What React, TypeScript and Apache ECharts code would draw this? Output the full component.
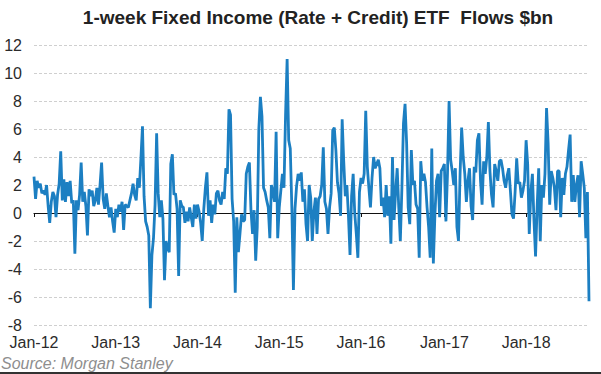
import React, { useEffect, useRef } from "react";
import * as echarts from "echarts";

// Weekly flows, $bn, one array per calendar year (weeks ending Fridays)
const flows2012 = [
  2.6, 1.0, 2.3, 1.8, 2.1, 1.4, 1.6, 1.3, 2.0, 0.5,
  -0.7, 0.8, 1.5, 1.2, -0.3, 1.3, 2.1, 4.4, 0.9, 2.4,
  0.8, 2.2, 1.2, 2.3, 0.7, 0.9, -2.9, 0.9, 0.2, 1.3,
  3.6, 0.8, 1.5, 0.5, -1.6, 1.7, 1.2, 1.6, 0.5, 0.9,
  1.8, 0.6, 2.0, 3.6, 1.0, 0.3, 1.4, 0.5, -0.3, 0.4,
  -0.6, -1.4,
];
const flows2013 = [
  0.3, -0.3, 0.6, 0.1, 0.8, -1.2, 0.6, 0.5, 0.4, 0.9,
  1.4, 2.1, 1.3, 0.9, 2.5, 1.8, 3.9, 6.2, 1.2, -0.6,
  -1.0, -1.6, -6.8, -3.0, -1.8, 0.6, 5.7, 1.4, -0.3, 0.9,
  -0.4, -4.8, -2.0, -2.5, -2.8, 3.5, 4.2, 1.3, 1.4, 0.3,
  -4.5, 0.9, 0.5, 0.4, -0.7, 0.1, -0.6, 0.4, -0.3, -1.0,
  0.6, -0.4,
];
const flows2014 = [
  0.6, 0.1, -0.7, -2.0, 0.3, 1.8, 2.9, -0.2, 0.9, -0.7,
  0.6, -0.1, 1.4, 1.6, 0.9, 0.6, 1.5, 1.0, 3.2, 2.8,
  7.4, 7.0, 1.0, -0.6, -5.7, -0.3, -2.8, -1.5, -0.1, -0.6,
  -0.5, 2.8, 3.3, 3.6, 0.2, -1.5, 0.2, -3.4, -1.0, 6.0,
  8.3, 6.9, 1.8, 1.5, 0.9, 0.4, -1.8, 2.0, 1.5, 0.8,
  5.8, -1.8,
];
const flows2015 = [
  0.4, 1.6, 2.8, 1.8, 7.0, 11.0, 5.2, 4.6, 0.4, -5.5,
  0.3, 1.9, 2.8, 2.3, 2.9, 0.8, 1.7, -0.8, -2.0, 2.0,
  1.1, -2.0, 0.1, 1.1, -1.5, 1.0, 1.2, 2.0, 4.7, 0.8,
  0.3, -1.5, 0.4, 1.4, 5.9, 6.1, 4.5, 2.2, 1.4, -0.2,
  6.7, 3.7, 1.2, 2.0, -0.2, -3.0, 1.2, 2.8, 0.0, -1.5,
  -3.2, 1.5,
];
const flows2016 = [
  2.5, 2.1, 2.8, 7.3, 3.3, 1.8, 0.4, 2.5, 4.0, 3.2,
  3.5, 3.8, 3.2, 0.5, 1.1, -0.3, 2.0, -0.2, 1.2, -2.2,
  4.0, -0.5, 1.5, 3.2, 0.4, -2.0, 1.8, 6.4, 7.8, 5.0,
  0.4, -0.8, 4.5, 2.0, 2.3, 0.6, 0.3, -3.2, 3.7, 2.3,
  2.8, 2.2, 0.4, -1.0, -3.2, 4.6, -3.6, -0.1, 2.3, 2.8,
  -0.3, 3.0, 3.2,
];
const flows2017 = [
  3.5, -0.6, 2.8, 8.0, 3.8, 3.0, 2.0, 3.2, -1.0, -2.0,
  2.8, 6.1, 4.0, 2.8, 0.8, 2.3, 3.2, 0.5, -0.5, 3.3,
  2.9, 5.2, 5.7, 2.3, 0.6, 3.7, 2.8, 4.0, 6.5, 3.0,
  1.3, 0.4, 3.5, 3.0, 2.3, 3.7, 3.8, 3.2, 2.3, 1.8,
  2.7, 3.2, 1.6, -0.1, -0.4, 1.5, 3.9, 2.1, 2.2, 1.1,
  1.6, 2.3,
];
const flows2018 = [
  5.2, 3.5, -1.5, 1.5, 2.8, -0.5, -3.1, 0.4, 3.2, -2.0,
  2.0, 1.1, 2.8, 7.5, 5.0, 0.6, 3.0, 2.5, 1.8, 0.2,
  3.0, 3.0, -0.3, 2.5, 1.3, 2.8, 3.3, 4.5, 5.6, 0.8,
  2.7, 0.8, 2.0, 2.7, -0.3, 3.7, 2.8, 1.8, -1.8, 1.5,
  -6.3,
];

const flows = [
  ...flows2012, ...flows2013, ...flows2014, ...flows2015,
  ...flows2016, ...flows2017, ...flows2018,
];

const firstWeek = "2012-01-06";
const yTicks = { min: -8, max: 12, interval: 2 };
const titleText = "1-week Fixed Income (Rate + Credit) ETF  Flows $bn";
const sourceText = "Source: Morgan Stanley";
const monthNames = ["Jan", "Feb", "Mar", "Apr", "May", "Jun", "Jul", "Aug", "Sep", "Oct", "Nov", "Dec"];

// weekly category labels
const weeks: string[] = (() => {
  const out: string[] = [];
  const t0 = Date.parse(firstWeek + "T00:00:00Z");
  for (let i = 0; i < flows.length; i++) {
    out.push(new Date(t0 + i * 7 * 86400000).toISOString().slice(0, 10));
  }
  return out;
})();

const isYearStart = (v: string) => {
  const d = new Date(v + "T00:00:00Z");
  return d.getUTCMonth() === 0 && d.getUTCDate() <= 7;
};
const fmtLabel = (v: string) => {
  const d = new Date(v + "T00:00:00Z");
  return monthNames[d.getUTCMonth()] + "-" + String(d.getUTCFullYear()).slice(2);
};

const FONT = "'Liberation Sans', Arial, sans-serif";

export default function App() {
  const ref = useRef<HTMLDivElement>(null);
  useEffect(() => {
    if (!ref.current) return;
    const chart = echarts.init(ref.current, null, { renderer: "svg" });
    chart.setOption({
      animation: false,
      backgroundColor: "#ffffff",
      textStyle: { fontFamily: FONT },
      grid: { left: 34, right: 12, top: 45, bottom: 49, containLabel: false },
      xAxis: [
        {
          type: "category",
          data: weeks,
          boundaryGap: false,
          position: "bottom",
          axisLine: { show: false, onZero: false },
          axisTick: { show: false },
          splitLine: { show: false },
          axisLabel: {
            interval: (_i: number, v: string) => isYearStart(v),
            formatter: (v: string) => fmtLabel(v),
            fontSize: 16,
            color: "#2b2b2b",
            fontFamily: FONT,
            margin: 9,
          },
        },
        {
          type: "category",
          data: weeks,
          boundaryGap: false,
          position: "bottom",
          axisLine: { show: true, onZero: true, lineStyle: { color: "#111", width: 1.2 } },
          axisTick: {
            show: true,
            interval: (_i: number, v: string) => isYearStart(v),
            length: 4,
            lineStyle: { color: "#111", width: 1 },
          },
          axisLabel: { show: false },
          splitLine: { show: false },
        },
      ],
      yAxis: {
        type: "value",
        min: yTicks.min,
        max: yTicks.max,
        interval: yTicks.interval,
        axisLine: { show: false },
        axisTick: { show: false },
        axisLabel: { fontSize: 16, color: "#2b2b2b", fontFamily: FONT, margin: 12 },
        splitLine: { show: true, lineStyle: { color: "#cfcfcf", type: [3, 2], width: 1 } },
      },
      series: [
        {
          type: "line",
          xAxisIndex: 0,
          data: flows,
          showSymbol: false,
          symbol: "none",
          lineStyle: { color: "#1c7fc2", width: 2.8 },
          z: 3,
        },
      ],
      graphic: [
        {
          type: "text",
          x: 318,
          y: 17,
          style: {
            text: titleText,
            fontSize: 19,
            fontWeight: "bold",
            fontFamily: FONT,
            fill: "#222",
            textAlign: "center",
            textVerticalAlign: "middle",
          },
        },
        {
          type: "text",
          x: 1,
          y: 363,
          style: {
            text: sourceText,
            fontSize: 16,
            fontStyle: "italic",
            fontFamily: FONT,
            fill: "#8e8e8e",
            textAlign: "left",
            textVerticalAlign: "middle",
          },
        },
        {
          type: "rect",
          shape: { x: 0, y: 372, width: 601, height: 2 },
          style: { fill: "#333" },
        },
      ],
    });
    return () => chart.dispose();
  }, []);
  return (
    <div
      ref={ref}
      style={{ position: "absolute", left: 0, top: 0, width: 601, height: 374 }}
    />
  );
}
